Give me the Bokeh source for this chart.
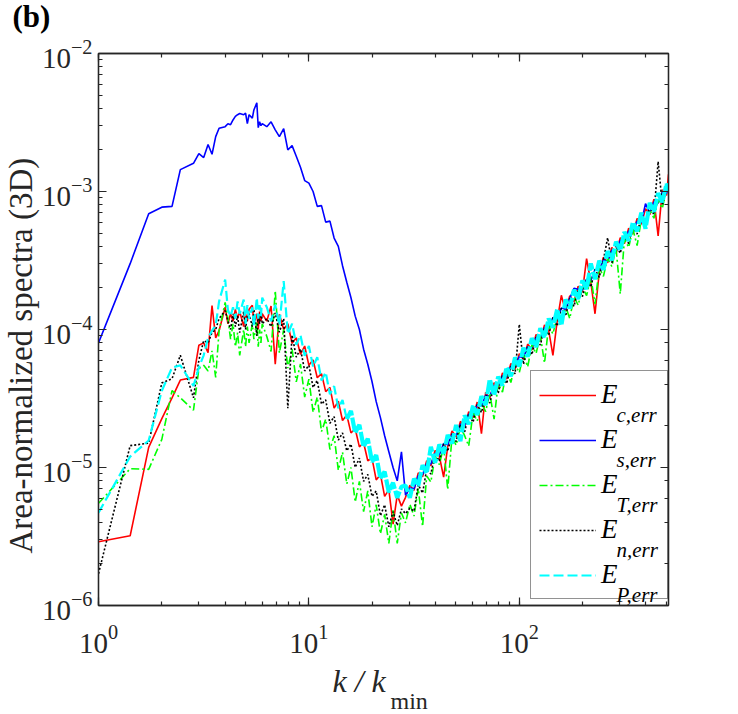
import numpy as np
from bokeh.plotting import figure
from bokeh.layouts import column
from bokeh.models import (Range1d, LogAxis, Legend, LegendItem, Label, Title,
                          ColumnDataSource, CustomJSTickFormatter)
from bokeh.embed import file_html
from bokeh.resources import INLINE

# wavenumber k / k_min
k = [1.0, 1.414, 1.732, 2.0, 2.236, 2.449, 2.828, 3.0, 3.162, 3.317,
     3.464, 3.606, 3.742, 4.0, 4.123, 4.243, 4.359, 4.472, 4.583, 4.690,
     4.899, 5.0, 5.099, 5.196, 5.385, 5.477, 5.657, 5.745, 5.831, 5.916, 6.0,
     6.31, 6.61, 6.92, 7.24, 7.59, 7.94, 8.32, 8.71, 9.12, 9.55,
     10.0, 10.47, 10.96, 11.48, 12.02, 12.59, 13.18, 13.80, 14.45, 15.14,
     15.85, 16.60, 17.38, 18.20, 19.05, 19.95, 20.89, 21.88, 22.91, 23.99,
     25.12, 26.30, 27.54,
     28.8, 30.2, 31.6, 33.1, 34.7, 36.3, 38.0, 39.8, 41.7, 43.7, 45.7, 47.9,
     50.1, 52.5, 55.0, 57.5, 60.3, 63.1, 66.1, 69.2, 72.4, 75.9, 79.4, 83.2,
     87.1, 91.2, 95.5, 100.0, 104.7, 109.6, 114.8, 120.2, 125.9, 131.8, 138.0,
     144.5, 151.4, 158.5, 166.0, 173.8, 182.0, 190.5, 199.5, 208.9, 218.8,
     229.1, 239.9, 251.2, 263.0, 275.4, 288.4, 302.0, 316.2, 331.1, 346.7,
     363.1, 380.2, 398.1, 416.9, 436.5, 457.1, 478.6, 501.2, 512.0]

E_c = [2.9e-6, 3.2e-6, 1.4e-5, 2.26e-5, 3.2e-5, 4.3e-5, 4.5e-5, 7.7e-5, 8.0e-5, 6.8e-5,
       1.49e-4, 8.7e-5, 9.8e-5, 1.45e-4, 1.1e-4, 1.3e-4, 1.15e-4, 1.4e-4, 1.2e-4, 1.35e-4,
       1.05e-4, 1.3e-4, 1.15e-4, 1.4e-4, 1.5e-4, 1.1e-4, 1.3e-4, 1.0e-4, 1.35e-4, 1.15e-4, 1.3e-4,
       1.15e-4, 1.48e-4, 5.6e-5, 1.29e-4, 1.0e-4, 1.1e-4, 7.94e-5, 8.71e-5, 6.61e-5, 7.59e-5,
       5.5e-5, 6.03e-5, 4.47e-5, 4.79e-5, 3.55e-5, 3.8e-5, 2.69e-5, 3.02e-5, 2.19e-5, 2.4e-5,
       1.78e-5, 1.91e-5, 1.41e-5, 1.51e-5, 1.12e-5, 1.17e-5, 8.13e-6, 8.91e-6, 6.17e-6, 6.92e-6,
       3.89e-6, 6.31e-6, 5.25e-6,
       6.08e-6, 7.44e-6, 6.82e-6, 9.15e-6, 8.58e-6, 1.12e-5, 1.03e-5, 1.33e-5, 1.21e-5, 8.52e-6,
       1.42e-5, 1.84e-5, 1.67e-5, 2.16e-5, 1.96e-5, 2.54e-5, 2.30e-5, 2.98e-5, 1.76e-5, 3.50e-5,
       3.17e-5, 4.11e-5, 3.74e-5, 4.84e-5, 4.38e-5, 5.68e-5, 5.15e-5, 6.68e-5, 6.05e-5, 7.84e-5,
       7.11e-5, 9.21e-5, 8.35e-5, 1.08e-4, 9.84e-5, 6.50e-5, 1.15e-4, 1.77e-4, 1.35e-4, 1.76e-4,
       1.59e-4, 2.06e-4, 1.87e-4, 3.26e-4, 2.20e-4, 1.30e-4, 2.59e-4, 3.34e-4, 3.04e-4, 3.93e-4,
       3.56e-4, 4.62e-4, 4.19e-4, 5.42e-4, 4.92e-4, 6.37e-4, 5.78e-4, 7.49e-4, 6.79e-4, 8.80e-4,
       4.77e-4, 1.03e-3, 9.38e-4, 1.33e-3]

E_s = [8.0e-5, 3.0e-4, 6.9e-4, 7.7e-4, 7.8e-4, 1.44e-3, 1.6e-3, 1.88e-3, 1.76e-3, 2.19e-3,
       1.86e-3, 2.5e-3, 2.87e-3, 2.95e-3, 3.1e-3, 3.05e-3, 3.3e-3, 3.5e-3, 3.6e-3, 3.67e-3,
       3.6e-3, 3.7e-3, 3.1e-3, 3.6e-3, 3.4e-3, 3.9e-3, 4.4e-3, 2.9e-3, 3.2e-3, 3.0e-3, 3.1e-3,
       2.95e-3, 3.2e-3, 2.8e-3, 2.5e-3, 2.85e-3, 2.0e-3, 2.15e-3, 1.8e-3, 1.5e-3, 1.2e-3,
       1.15e-3, 1.0e-3, 7.8e-4, 7.9e-4, 6.0e-4, 6.1e-4, 4.6e-4, 4.0e-4, 2.9e-4, 2.2e-4,
       1.7e-4, 1.25e-4, 1.0e-4, 7.2e-5, 5.6e-5, 4.2e-5, 3.0e-5, 2.3e-5, 1.7e-5, 1.3e-5,
       1.0e-5, 8.0e-6, 1.3e-5,
       6.3e-6, 7.1e-6, 7.0e-6, 8.7e-6, 8.9e-6, 1.07e-5, 1.06e-5, 1.27e-5, 1.24e-5, 1.49e-5,
       1.46e-5, 1.75e-5, 1.72e-5, 2.06e-5, 2.02e-5, 2.43e-5, 2.38e-5, 2.85e-5, 2.79e-5, 3.34e-5,
       3.28e-5, 3.93e-5, 3.86e-5, 4.62e-5, 4.52e-5, 5.42e-5, 5.32e-5, 6.37e-5, 6.25e-5, 7.49e-5,
       7.34e-5, 8.79e-5, 8.63e-5, 1.03e-4, 1.02e-4, 1.22e-4, 1.19e-4, 1.43e-4, 1.40e-4, 1.68e-4,
       1.99e-4, 1.96e-4, 1.93e-4, 2.31e-4, 2.27e-4, 2.72e-4, 2.67e-4, 3.19e-4, 3.14e-4, 3.75e-4,
       3.68e-4, 4.41e-4, 4.32e-4, 5.18e-4, 5.08e-4, 6.08e-4, 5.97e-4, 8.17e-4, 7.01e-4, 8.40e-4,
       8.24e-4, 9.87e-4, 9.69e-4, 1.11e-3]

E_T = [5.5e-6, 9.8e-6, 9.7e-6, 1.6e-5, 3.6e-5, 3.2e-5, 2.6e-5, 5.2e-5, 5.5e-5, 5.0e-5,
       7.0e-5, 4.5e-5, 9.8e-5, 1.57e-4, 1.2e-4, 8.5e-5, 1.1e-4, 7.5e-5, 9.5e-5, 6.5e-5,
       1.0e-4, 7.5e-5, 1.05e-4, 8.0e-5, 1.1e-4, 8.5e-5, 1.15e-4, 7.5e-5, 1.0e-4, 8.0e-5, 1.1e-4,
       8.91e-5, 6.92e-5, 1.91e-4, 6.76e-5, 1.0e-4, 5.25e-5, 7.24e-5, 4.17e-5, 5.62e-5, 3.24e-5,
       4.37e-5, 2.51e-5, 3.24e-5, 1.82e-5, 2.24e-5, 1.35e-5, 1.70e-5, 9.55e-6, 1.29e-5, 7.59e-6,
       1.0e-5, 5.62e-6, 7.94e-6, 4.79e-6, 6.76e-6, 3.72e-6, 5.37e-6, 3.31e-6, 4.57e-6, 2.82e-6,
       4.90e-6, 2.82e-6, 4.68e-6,
       3.97e-6, 5.41e-6, 4.45e-6, 7.07e-6, 3.73e-6, 8.67e-6, 7.84e-6, 1.21e-5, 1.05e-5, 1.42e-5,
       6.93e-6, 1.67e-5, 1.45e-5, 1.96e-5, 1.70e-5, 1.43e-5, 2.50e-5, 2.17e-5, 2.94e-5, 2.54e-5,
       3.45e-5, 2.24e-5, 4.06e-5, 3.52e-5, 5.00e-5, 4.13e-5, 5.60e-5, 4.86e-5, 6.58e-5, 5.35e-5,
       7.73e-5, 6.70e-5, 9.08e-5, 5.71e-5, 1.07e-4, 9.28e-5, 1.25e-4, 1.09e-4, 1.47e-4, 1.20e-4,
       1.73e-4, 1.50e-4, 2.03e-4, 1.76e-4, 2.39e-4, 1.53e-4, 2.81e-4, 2.43e-4, 3.30e-4, 2.86e-4,
       3.87e-4, 1.81e-4, 4.55e-4, 3.94e-4, 5.35e-4, 4.05e-4, 6.28e-4, 5.45e-4, 7.38e-4, 6.40e-4,
       8.67e-4, 7.52e-4, 1.07e-3, 9.54e-4]

E_n = [1.7e-6, 1.44e-5, 1.5e-5, 4.1e-5, 4.4e-5, 6.5e-5, 3.2e-5, 6.0e-5, 8.3e-5, 8.0e-5,
       9.5e-5, 1.0e-4, 1.2e-4, 1.37e-4, 1.15e-4, 1.0e-4, 1.3e-4, 1.05e-4, 1.25e-4, 9.5e-5,
       1.35e-4, 1.0e-4, 1.25e-4, 1.3e-4, 1.05e-4, 1.4e-4, 9.0e-5, 1.3e-4, 1.1e-4, 1.45e-4, 1.1e-4,
       1.20e-4, 1.05e-4, 1.32e-4, 9.55e-5, 1.20e-4, 2.69e-5, 9.12e-5, 6.31e-5, 7.24e-5, 5.01e-5,
       5.50e-5, 3.80e-5, 4.27e-5, 2.88e-5, 3.09e-5, 2.09e-5, 2.34e-5, 1.58e-5, 1.78e-5, 1.32e-5,
       1.48e-5, 1.00e-5, 1.17e-5, 7.94e-6, 8.91e-6, 6.17e-6, 6.76e-6, 4.47e-6, 5.37e-6, 3.72e-6,
       4.79e-6, 3.80e-6, 5.01e-6,
       4.63e-6, 5.07e-6, 4.82e-6, 7.49e-6, 6.53e-6, 9.69e-6, 8.96e-6, 1.27e-5, 1.11e-5, 1.49e-5,
       1.31e-5, 1.75e-5, 1.54e-5, 2.06e-5, 1.81e-5, 2.43e-5, 2.13e-5, 2.85e-5, 2.50e-5, 3.34e-5,
       2.93e-5, 3.93e-5, 3.45e-5, 4.62e-5, 4.05e-5, 5.42e-5, 4.76e-5, 1.09e-4, 5.59e-5, 7.49e-5,
       6.57e-5, 8.79e-5, 7.72e-5, 1.03e-4, 9.10e-5, 1.22e-4, 1.06e-4, 1.43e-4, 1.25e-4, 1.68e-4,
       1.47e-4, 1.96e-4, 1.73e-4, 2.31e-4, 2.03e-4, 2.72e-4, 2.39e-4, 3.19e-4, 4.62e-4, 3.03e-4,
       4.06e-4, 3.57e-4, 4.78e-4, 4.19e-4, 5.62e-4, 4.92e-4, 6.59e-4, 5.79e-4, 7.75e-4, 6.80e-4,
       1.65e-3, 7.99e-4, 1.07e-3, 1.01e-3]

E_P = [4.7e-6, 1.2e-5, 1.57e-5, 3.6e-5, 5.3e-5, 5.5e-5, 3.9e-5, 5.3e-5, 6.5e-5, 8.7e-5,
       9.8e-5, 1.07e-4, 1.6e-4, 2.3e-4, 1.38e-4, 1.25e-4, 1.45e-4, 1.2e-4, 1.6e-4, 1.3e-4,
       1.65e-4, 1.1e-4, 1.5e-4, 1.2e-4, 1.45e-4, 1.05e-4, 1.7e-4, 1.2e-4, 1.5e-4, 1.25e-4, 1.7e-4,
       1.45e-4, 1.15e-4, 1.51e-4, 1.07e-4, 2.24e-4, 9.3e-5, 1.10e-4, 7.76e-5, 9.12e-5, 6.46e-5,
       7.59e-5, 5.37e-5, 6.31e-5, 4.27e-5, 4.90e-5, 3.39e-5, 3.89e-5, 2.69e-5, 3.09e-5, 2.24e-5,
       2.57e-5, 1.78e-5, 2.04e-5, 1.41e-5, 1.62e-5, 1.10e-5, 1.23e-5, 8.32e-6, 9.33e-6, 6.61e-6,
       7.76e-6, 6.03e-6, 7.24e-6,
       7.40e-6, 6.02e-6, 8.30e-6, 7.40e-6, 1.04e-5, 9.08e-6, 1.41e-5, 1.08e-5, 1.47e-5, 1.26e-5,
       1.72e-5, 1.49e-5, 2.03e-5, 1.55e-5, 2.39e-5, 2.06e-5, 2.80e-5, 2.41e-5, 3.29e-5, 2.83e-5,
       4.35e-5, 3.33e-5, 4.55e-5, 3.92e-5, 5.33e-5, 4.59e-5, 6.27e-5, 5.40e-5, 7.37e-5, 6.35e-5,
       8.66e-5, 7.45e-5, 1.02e-4, 8.76e-5, 1.20e-4, 1.03e-4, 1.40e-4, 1.07e-4, 1.65e-4, 1.42e-4,
       1.94e-4, 1.66e-4, 2.27e-4, 1.96e-4, 3.01e-4, 2.31e-4, 3.15e-4, 2.71e-4, 3.70e-4, 3.18e-4,
       4.33e-4, 3.74e-4, 5.10e-4, 4.39e-4, 5.99e-4, 5.15e-4, 7.03e-4, 5.38e-4, 8.27e-4, 7.12e-4,
       9.71e-4, 8.37e-4, 1.14e-3, 1.01e-3]

legend_subs = ["c,err", "s,err", "T,err", "n,err", "P,err"]

FONT = "Liberation Serif"
AX = "#262626"
W = 738
H_TOP = 36
H_MAIN = 624
H_BOT = 54

# ---- strip above the axes: panel tag ----
p0 = figure(width=W, height=H_TOP, output_backend="svg", toolbar_location=None,
            x_axis_location=None, y_axis_location=None,
            min_border_left=0, min_border_right=0, min_border_top=0, min_border_bottom=0,
            x_range=Range1d(0, 1), y_range=Range1d(0, 1))
p0.frame_align = False
p0.grid.visible = False
p0.outline_line_color = None
p0.add_layout(Label(x=12, y=20, x_units="screen", y_units="screen", text="(b)",
                    text_font=FONT, text_font_style="bold", text_font_size="31px",
                    text_baseline="alphabetic", text_color="black"))

# ---- main axes ----
p = figure(width=W, height=H_MAIN, x_axis_type="log", y_axis_type="log",
           x_range=Range1d(1, 512), y_range=Range1d(1e-6, 1e-2),
           output_backend="svg", toolbar_location=None,
           min_border_left=96, min_border_right=70, min_border_top=17, min_border_bottom=55)
p.frame_align = False
p.grid.visible = False
p.outline_line_color = AX
p.outline_line_width = 1.3
p.background_fill_color = "white"
p.border_fill_color = "white"


def style(ax, labels=True):
    ax.axis_line_color = AX
    ax.axis_line_width = 1.3
    ax.major_tick_in = 8
    ax.major_tick_out = 0
    ax.minor_tick_in = 4
    ax.minor_tick_out = 0
    ax.major_tick_line_color = AX
    ax.minor_tick_line_color = AX
    ax.major_tick_line_width = 1.2
    ax.minor_tick_line_width = 1.2
    ax.major_label_text_font = FONT
    ax.major_label_text_color = AX
    ax.major_label_text_font_size = "29px"
    if not labels:
        ax.formatter = CustomJSTickFormatter(code="return ''")
        ax.major_label_text_font_size = "1px"
        ax.major_label_standoff = 0


style(p.xaxis[0])
style(p.yaxis[0])
p.xaxis[0].major_label_standoff = 19
p.yaxis[0].major_label_standoff = 6

ax_r = LogAxis()
style(ax_r, labels=False)
p.add_layout(ax_r, "right")
ax_t = LogAxis()
style(ax_t, labels=False)
p.add_layout(ax_t, "above")

p.add_layout(Title(text="Area-normalized spectra (3D)", align="left", offset=52, standoff=0,
                   text_font=FONT, text_font_style="normal", text_font_size="33px",
                   text_color=AX), "left")

src = ColumnDataSource(dict(k=k, Ec=E_c, Es=E_s, ET=E_T, En=E_n, EP=E_P))
split = 50
src_P_lo = ColumnDataSource(dict(k=k[:split + 1], EP=E_P[:split + 1]))
src_P_hi = ColumnDataSource(dict(k=k[split:], EP=E_P[split:]))

r_c = p.line("k", "Ec", source=src, line_color="#FF0000", line_width=1.6)
r_s = p.line("k", "Es", source=src, line_color="#0000FF", line_width=1.6)
r_T = p.line("k", "ET", source=src, line_color="#00FF00", line_width=1.6, line_dash="8 3 2 3")
r_n = p.line("k", "En", source=src, line_color="#000000", line_width=1.6, line_dash="2 2")
r_P = p.line("k", "EP", source=src_P_lo, line_color="#00FFFF", line_width=2.2, line_dash="10 4")
p.line("k", "EP", source=src_P_hi, line_color="#00FFFF", line_width=4.2, line_dash="14 2")

renderers = [r_c, r_s, r_T, r_n, r_P]
items = [LegendItem(label="E", renderers=[r]) for r in renderers]
leg = Legend(items=items, location=(432, 6))
leg.label_text_font = FONT
leg.label_text_font_style = "italic"
leg.label_text_font_size = "27px"
leg.label_text_color = "black"
leg.glyph_width = 57
leg.glyph_height = 30
leg.label_height = 30
leg.label_width = 58
leg.spacing = 14
leg.padding = 8
leg.label_standoff = 5
leg.margin = 0
leg.border_line_color = AX
leg.border_line_width = 1.2
leg.background_fill_alpha = 0.0
p.add_layout(leg)

for i, s in enumerate(legend_subs):
    p.add_layout(Label(x=518, y=191 - 45 * i, x_units="screen", y_units="screen",
                       text=s, text_font=FONT, text_font_style="italic",
                       text_font_size="21px", text_baseline="alphabetic", text_color="black"))

# ---- strip below the axes: x-axis title ----
p2 = figure(width=W, height=H_BOT, output_backend="svg", toolbar_location=None,
            x_axis_location=None, y_axis_location=None,
            min_border_left=0, min_border_right=0, min_border_top=0, min_border_bottom=0,
            x_range=Range1d(0, 1), y_range=Range1d(0, 1))
p2.frame_align = False
p2.grid.visible = False
p2.outline_line_color = None
p2.add_layout(Label(x=332, y=34, x_units="screen", y_units="screen", text="k / k",
                    text_font=FONT, text_font_style="italic", text_font_size="32px",
                    text_baseline="alphabetic", text_color=AX))
p2.add_layout(Label(x=390, y=14, x_units="screen", y_units="screen", text="min",
                    text_font=FONT, text_font_size="24px",
                    text_baseline="alphabetic", text_color=AX))

page = column(p0, p, p2, spacing=0)
open("out.html", "w").write(file_html(page, INLINE))
